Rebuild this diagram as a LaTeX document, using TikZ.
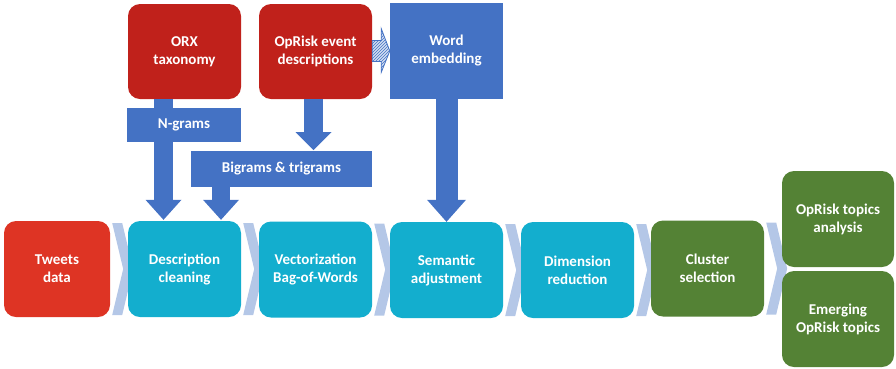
\documentclass[tikz,border=0pt]{standalone}
\usepackage{fontspec}
\setmainfont{Carlito}
\usetikzlibrary{arrows.meta, calc, patterns, backgrounds}

\definecolor{riskred}{RGB}{192,33,27}
\definecolor{tweetred}{RGB}{222,52,36}
\definecolor{stepcyan}{RGB}{19,174,206}
\definecolor{topicgreen}{RGB}{84,130,53}
\definecolor{arrowblue}{RGB}{68,114,196}
\definecolor{chevgray}{RGB}{180,199,231}

% chevron sitting in the gap between two steps
\newcommand{\chevron}[2]{%
  \fill[chevgray] ($(#1.east)+(2,-46)$) -- ++(10,0) -- ++(11,46) -- ++(-11,46) -- ++(-10,0) -- ++(11,-46) -- cycle;}

\begin{document}
\begin{tikzpicture}[x=1pt, y=-1pt,
    box/.style={rounded corners=12pt, minimum width=113pt, minimum height=96pt, inner sep=0pt,
        text=white, align=center, font=\bfseries\fontsize{15}{18}\selectfont},
    label/.style={fill=arrowblue, inner sep=0pt, text=white, font=\bfseries\fontsize{15}{18}\selectfont},
    fat/.style={arrowblue, line width=19pt, -{Triangle[length=20pt, width=36pt, line width=0pt]}}]
    \useasboundingbox (0,0) rectangle (896,368);

    % Sources
    \node[box, fill=riskred, minimum height=95pt] (orx) at (184.5,51.5) {ORX\\taxonomy};
    \node[box, fill=riskred, minimum height=95pt] (opevent) at (315.5,51.5) {OpRisk event\\descriptions};
    \node[box, fill=arrowblue, rounded corners=0pt] (wordemb) at (446.5,51) {Word\\embedding};

    % Pipeline
    \node[box, fill=tweetred, minimum width=106pt] (tweets) at (57,269) {Tweets\\data};
    \node[box, fill=stepcyan] (desc) at (184.5,269) {Description\\cleaning};
    \node[box, fill=stepcyan] (vector) at (315.5,269.5) {Vectorization\\Bag-of-Words};
    \node[box, fill=stepcyan] (semantic) at (446.5,270) {Semantic\\adjustment};
    \node[box, fill=stepcyan] (dimred) at (577.5,270) {Dimension\\reduction};
    \node[box, fill=topicgreen] (cluster) at (707.5,268.5) {Cluster\\selection};

    % Results
    \node[box, fill=topicgreen, minimum width=112pt] (topics) at (838,219) {OpRisk topics\\analysis};
    \node[box, fill=topicgreen, minimum width=112pt] (emerging) at (838,319) {Emerging\\OpRisk topics};

    % Chevrons between steps
    \begin{scope}[on background layer]
        \chevron{tweets}{desc}
        \chevron{desc}{vector}
        \chevron{vector}{semantic}
        \chevron{semantic}{dimred}
        \chevron{dimred}{cluster}
        \chevron{cluster}{topics}
    \end{scope}

    % Feeding arrows
    \draw[fat] ($(orx.south)+(-21,0)$) -- ($(desc.north)+(-21,-1)$);
    \draw[fat, line width=18pt] ($(desc.north)+(36.5,-34)$) -- ($(desc.north)+(36.5,-1)$);
    \draw[fat, -{Triangle[length=18pt, width=36pt, line width=0pt]}] ($(opevent.south)+(-2,0)$) -- ($(opevent.south |- 0,151)+(-2,-1)$);
    \draw[fat, line width=22pt, -{Triangle[length=22pt, width=39pt, line width=0pt]}] (wordemb.south) -- (semantic.north);

    % Labels on the arrows
    \node[label, minimum width=114pt, minimum height=34pt] (ngrams) at (184,125) {N-grams};
    \node[label, minimum width=181pt, minimum height=36pt] (bigrams) at (281.5,169) {Bigrams \& trigrams};

    % Hatched arrow into the embedding
    \filldraw[draw=arrowblue, line width=0.8pt, preaction={fill=chevgray!60}, pattern=north east lines, pattern color=arrowblue]
        ($(opevent.east)+(0,-11)$) -- ++(9,0) -- ++(0,-12) -- (wordemb.west) -- ($(opevent.east)+(9,21)$) -- ++(0,-11) -- ($(opevent.east)+(0,10)$) -- cycle;
\end{tikzpicture}
\end{document}
